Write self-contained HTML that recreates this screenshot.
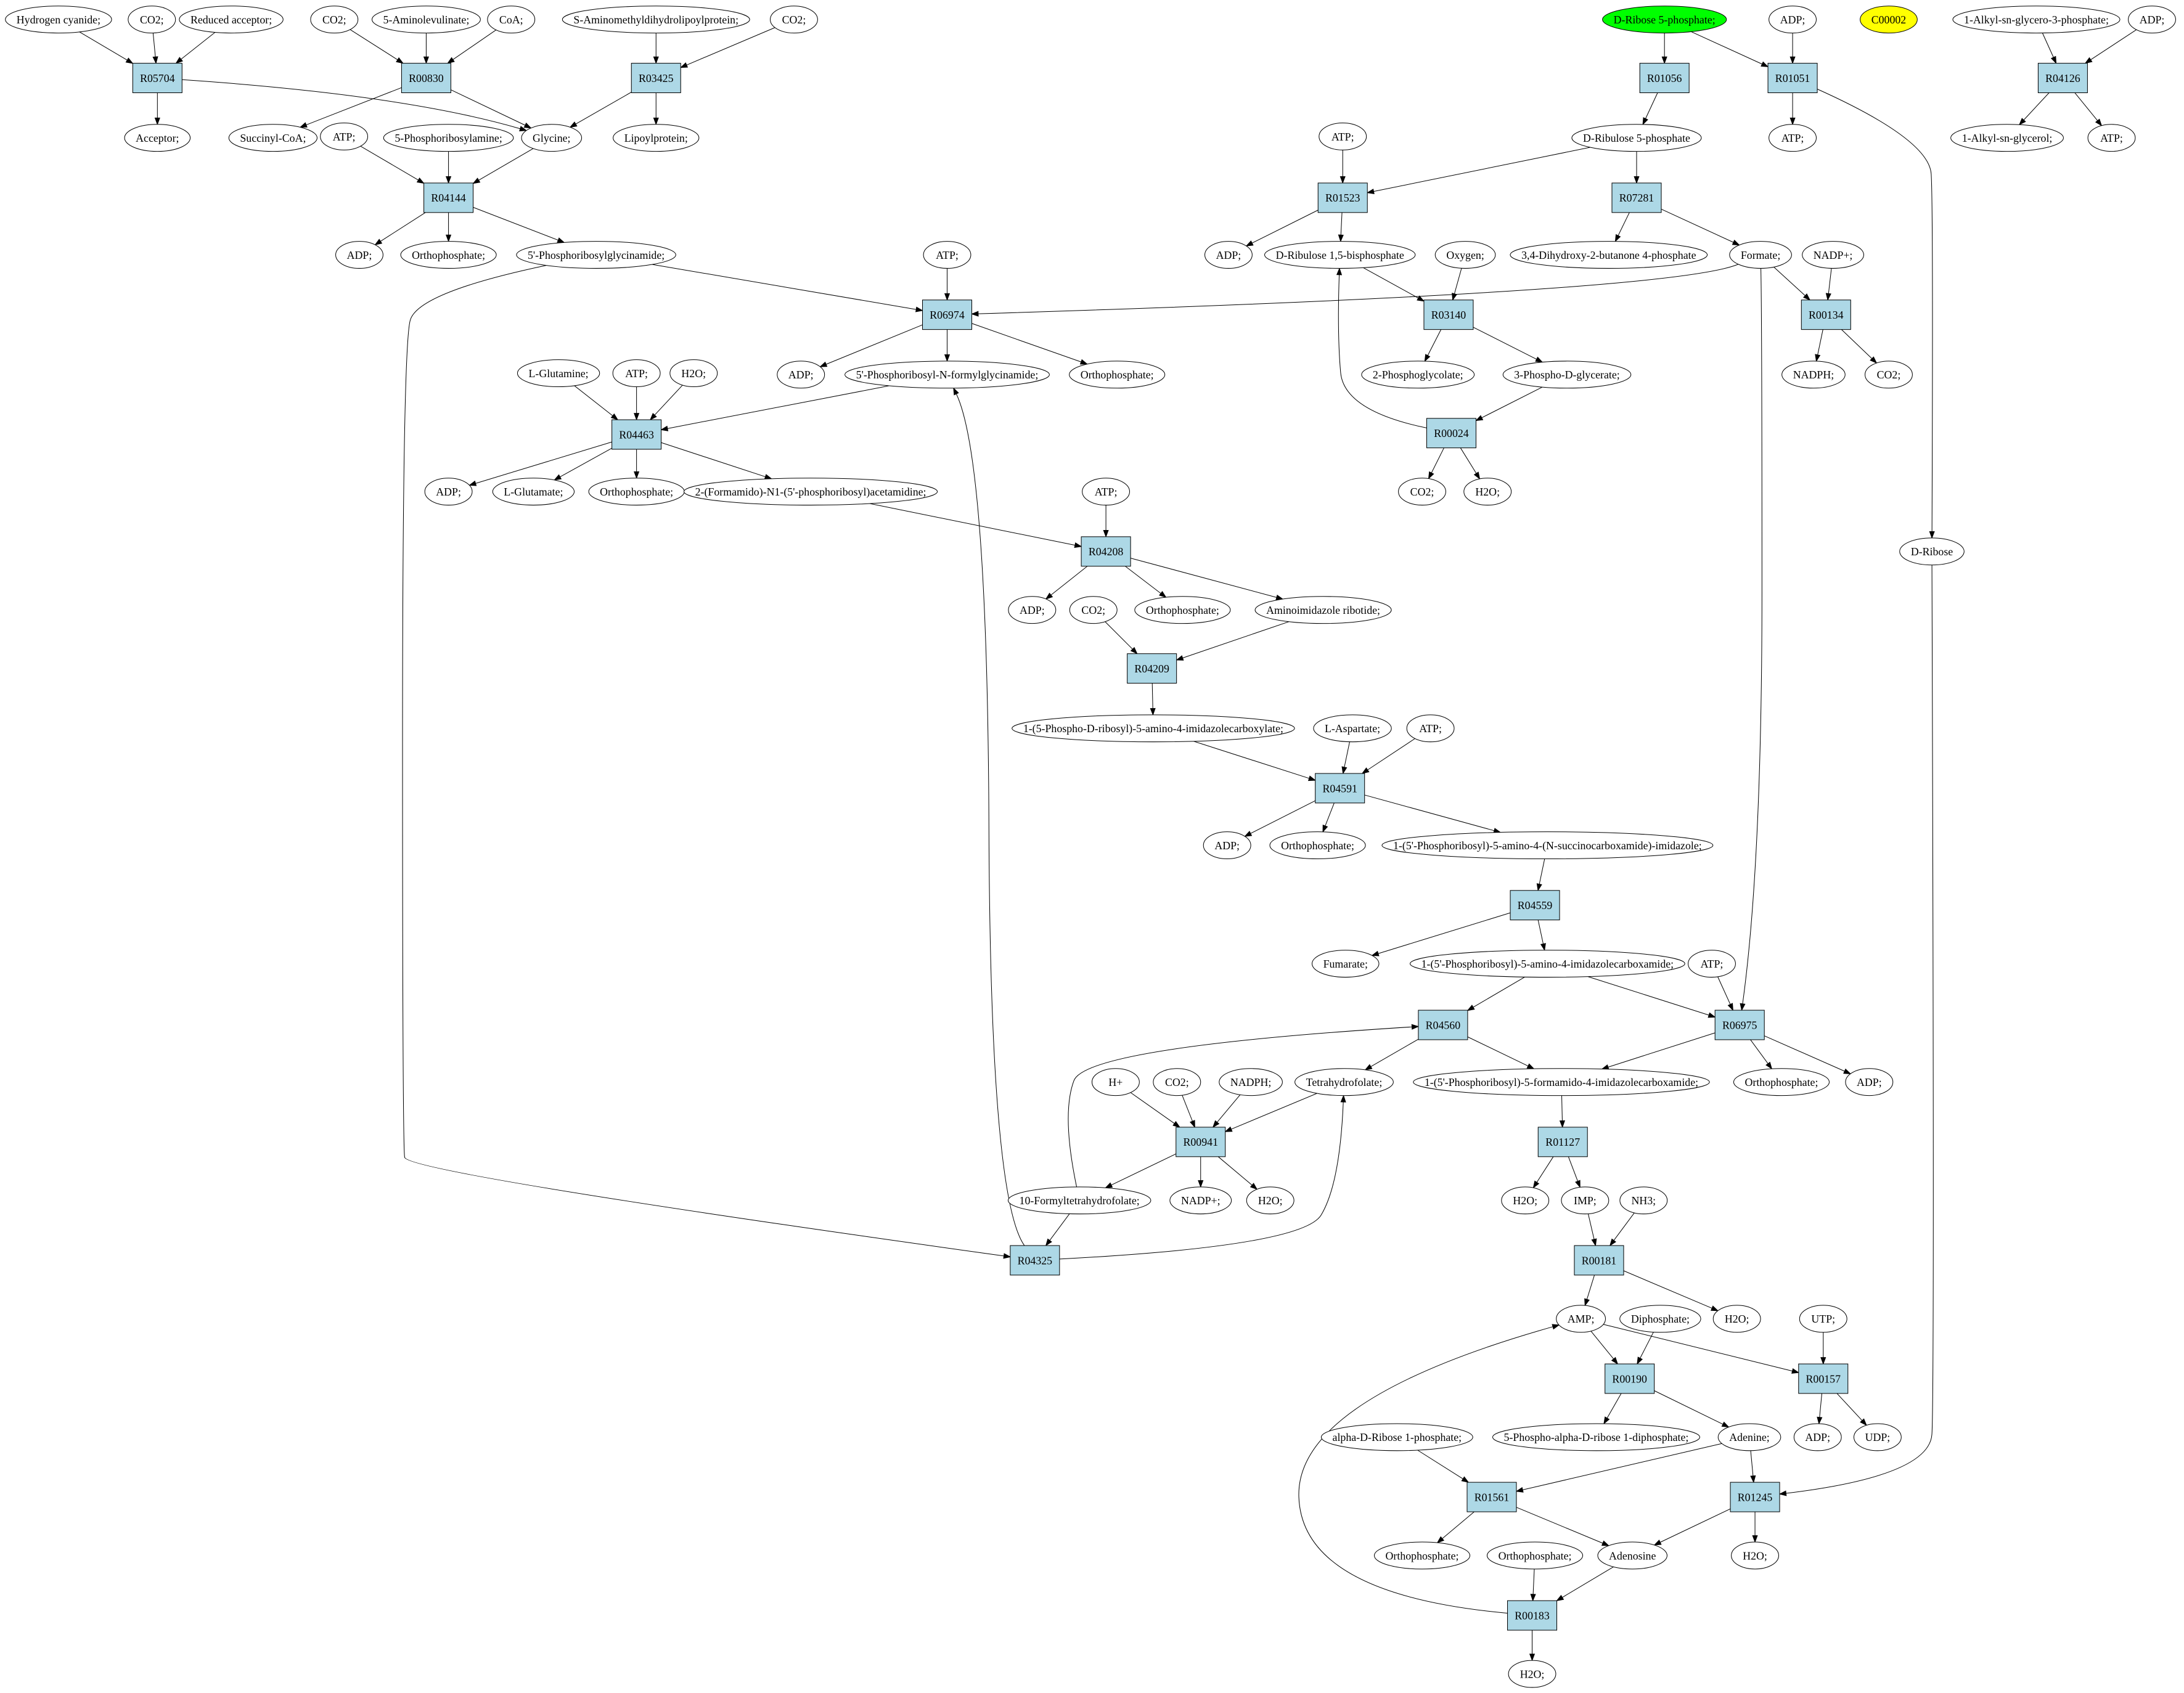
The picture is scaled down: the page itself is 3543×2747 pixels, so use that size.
<!DOCTYPE html>
<html><head><meta charset="utf-8">
<style>
html,body{margin:0;padding:0;background:#fff;}
svg{display:block;}
text{font-family:"Liberation Serif",serif;font-size:7.9px;}
</style></head>
<body>
<svg id="g" xmlns="http://www.w3.org/2000/svg" width="3543" height="2747" viewBox="0 0 1568 1215.7">
<rect x="0" y="0" width="1568" height="1216" fill="#fff"/>
<g id="edges" stroke="#000" stroke-width="0.45" fill="none"></g>
<g id="arrows" fill="#000" stroke="#000" stroke-width="0.45"></g>
<g id="nodes"></g>
</svg>
<script>
var NS="http://www.w3.org/2000/svg";
var N={
hcn:['Hydrogen cyanide;',42,14],co2a:['CO2;',109,14],redacc:['Reduced acceptor;',166,14],co2b:['CO2;',240,14],
ala:['5-Aminolevulinate;',306,14],coa:['CoA;',367,14],sam:['S-Aminomethyldihydrolipoylprotein;',471,14],co2c:['CO2;',570,14],
r5p:['D-Ribose 5-phosphate;',1195,14,'#00ff00'],adp1:['ADP;',1287,14],c2:['C00002',1356,14,'#ffff00'],
agp:['1-Alkyl-sn-glycero-3-phosphate;',1462,14],adp2:['ADP;',1545,14],
acc:['Acceptor;',113,99],succ:['Succinyl-CoA;',196,99],atp1:['ATP;',247,98],pra:['5-Phosphoribosylamine;',322,99],
gly:['Glycine;',396,99],lip:['Lipoylprotein;',471,99],ru5p:['D-Ribulose 5-phosphate',1175,99],atp2:['ATP;',1287,99],
alg:['1-Alkyl-sn-glycerol;',1441,99],atp3:['ATP;',1516,99],atp4:['ATP;',964,98],
adp3:['ADP;',258,183],pi1:['Orthophosphate;',322,183],gar:["5'-Phosphoribosylglycinamide;",428,183],atp5:['ATP;',680,183],
adp4:['ADP;',882,183],rubp:['D-Ribulose 1,5-bisphosphate',962,183],oxy:['Oxygen;',1052,183],
dhbp:['3,4-Dihydroxy-2-butanone 4-phosphate',1155,183],form:['Formate;',1264,183],nadpp1:['NADP+;',1316,183],
adp5:['ADP;',575,269],fgar:["5'-Phosphoribosyl-N-formylglycinamide;",680,269],pi2:['Orthophosphate;',802,269],
gln:['L-Glutamine;',401,268],atp6:['ATP;',457,268],h2o1:['H2O;',498,268],pg2:['2-Phosphoglycolate;',1018,269],
pg3:['3-Phospho-D-glycerate;',1125,269],nadph1:['NADPH;',1302,269],co2d:['CO2;',1356,269],
adp6:['ADP;',322,353],glu:['L-Glutamate;',383,353],pi3:['Orthophosphate;',457,353],
fgam:["2-(Formamido)-N1-(5'-phosphoribosyl)acetamidine;",582,353],atp7:['ATP;',794,353],co2e:['CO2;',1021,353],h2o2:['H2O;',1068,353],
drib:['D-Ribose',1387,396],
adp7:['ADP;',741,438],co2f:['CO2;',785,438],pi4:['Orthophosphate;',849,438],air:['Aminoimidazole ribotide;',950,438],
cair:['1-(5-Phospho-D-ribosyl)-5-amino-4-imidazolecarboxylate;',828,523],asp:['L-Aspartate;',971,523],atp8:['ATP;',1027,523],
adp8:['ADP;',881,607],pi5:['Orthophosphate;',946,607],saicar:["1-(5'-Phosphoribosyl)-5-amino-4-(N-succinocarboxamide)-imidazole;",1111,607],
fum:['Fumarate;',966,692],aicar:["1-(5'-Phosphoribosyl)-5-amino-4-imidazolecarboxamide;",1111,692],atp9:['ATP;',1229,692],
hp:['H+',801,777],co2g:['CO2;',845,777],nadph2:['NADPH;',898,777],thf:['Tetrahydrofolate;',965,777],
faicar:["1-(5'-Phosphoribosyl)-5-formamido-4-imidazolecarboxamide;",1121,777],pi6:['Orthophosphate;',1279,777],adp9:['ADP;',1342,777],
f10:['10-Formyltetrahydrofolate;',775,862],nadpp2:['NADP+;',862,862],h2o3:['H2O;',912,862],h2o4:['H2O;',1095,862],
imp:['IMP;',1138,862],nh3:['NH3;',1180,862],
amp:['AMP;',1135,947],dip:['Diphosphate;',1192,947],h2o5:['H2O;',1247,947],utp:['UTP;',1309,947],
ar1p:['alpha-D-Ribose 1-phosphate;',1003,1032],prpp:['5-Phospho-alpha-D-ribose 1-diphosphate;',1146,1032],
ade:['Adenine;',1256,1032],adp10:['ADP;',1305,1032],udp:['UDP;',1348,1032],
pi7:['Orthophosphate;',1021,1117],pi8:['Orthophosphate;',1102,1117],ado:['Adenosine',1172,1117],h2o6:['H2O;',1260,1117],
h2o7:['H2O;',1100,1202]
};
var B={R05704:[113,56],R00830:[306,56],R03425:[471,56],R01056:[1195,56],R01051:[1287,56],R04126:[1481,56],
R04144:[322,142],R01523:[964,142],R07281:[1175,142],R06974:[680,226],R03140:[1040,226],R00134:[1311,226],
R04463:[457,312],R00024:[1042,311],R04208:[794,396],R04209:[827,480],R04591:[962,566],R04559:[1102,650],
R04560:[1036,736],R06975:[1249,736],R00941:[862,820],R01127:[1122,820],R04325:[743,905],R00181:[1148,905],
R00190:[1170,990],R00157:[1309,990],R01561:[1071,1075],R01245:[1260,1075],R00183:[1100,1160]};
var nodes=document.getElementById('nodes');
var RY=9.7,BW=17.7,BH=10.6;
var shapes={};
function mk(t,a){var e=document.createElementNS(NS,t);for(var k in a)e.setAttribute(k,a[k]);return e;}
for(var id in N){var n=N[id];
 var el=mk('ellipse',{cx:n[1],cy:n[2],rx:20,ry:RY,fill:n[3]||'#fff',stroke:'#000','stroke-width':0.45});
 nodes.appendChild(el);
 var t=mk('text',{x:n[1],y:n[2]+2.8,'text-anchor':'middle'});t.textContent=n[0];nodes.appendChild(t);
 var w=t.getComputedTextLength?t.getComputedTextLength():n[0].length*3.6;
 var rx=Math.max(w/2+8,17);el.setAttribute('rx',rx);
 shapes[id]={t:'e',x:n[1],y:n[2],rx:rx,ry:RY};
}
for(var id in B){var b=B[id];
 nodes.appendChild(mk('rect',{x:b[0]-BW,y:b[1]-BH,width:2*BW,height:2*BH,fill:'#add8e6',stroke:'#000','stroke-width':0.45}));
 var t=mk('text',{x:b[0],y:b[1]+2.8,'text-anchor':'middle'});t.textContent=id;nodes.appendChild(t);
 shapes[id]={t:'b',x:b[0],y:b[1]};
}
function clip(s,tx,ty){
 var dx=tx-s.x,dy=ty-s.y;
 if(s.t=='e'){var k=1/Math.sqrt((dx*dx)/(s.rx*s.rx)+(dy*dy)/(s.ry*s.ry));return [s.x+dx*k,s.y+dy*k];}
 var k=Math.min(BW/Math.abs(dx||1e-9),BH/Math.abs(dy||1e-9));return [s.x+dx*k,s.y+dy*k];
}
var eg=document.getElementById('edges'),ag=document.getElementById('arrows');
function edge(a,b,via){
 var A=shapes[a],Bs=shapes[b];via=via||[];
 var first=via.length?via[0]:[Bs.x,Bs.y],last=via.length?via[via.length-1]:[A.x,A.y];
 var p0=clip(A,first[0],first[1]);var tip=clip(Bs,last[0],last[1]);
 var dx=tip[0]-last[0],dy=tip[1]-last[1];var L=Math.hypot(dx,dy)||1;dx/=L;dy/=L;
 var AL=4.6,AW=1.7;var base=[tip[0]-dx*AL,tip[1]-dy*AL];
 var d='M'+p0[0].toFixed(2)+','+p0[1].toFixed(2);
 if(via.length==0){d+=' L'+base[0]+','+base[1];}
 else{
  var pts=[p0].concat(via).concat([base]);
  for(var i=1;i<pts.length-1;i++){
   var nx=pts[i+1];var m=(i==pts.length-2)?nx:[(pts[i][0]+nx[0])/2,(pts[i][1]+nx[1])/2];
   d+=' Q'+pts[i][0]+','+pts[i][1]+' '+m[0]+','+m[1];
  }
 }
 eg.appendChild(mk('path',{d:d}));
 var px=-dy,py=dx;
 ag.appendChild(mk('polygon',{points:tip[0]+','+tip[1]+' '+(base[0]+px*AW)+','+(base[1]+py*AW)+' '+(base[0]-px*AW)+','+(base[1]-py*AW)}));
}
var E=[
'hcn>R05704','co2a>R05704','redacc>R05704','R05704>acc',
'co2b>R00830','ala>R00830','coa>R00830','R00830>succ','R00830>gly',
'sam>R03425','co2c>R03425','R03425>gly','R03425>lip',
'atp1>R04144','pra>R04144','gly>R04144','R04144>adp3','R04144>pi1','R04144>gar',
'gar>R06974','atp5>R06974','R06974>adp5','R06974>fgar','R06974>pi2',
'gln>R04463','atp6>R04463','h2o1>R04463','fgar>R04463','R04463>adp6','R04463>glu','R04463>pi3','R04463>fgam',
'fgam>R04208','atp7>R04208','R04208>adp7','R04208>pi4','R04208>air',
'co2f>R04209','air>R04209','R04209>cair',
'cair>R04591','asp>R04591','atp8>R04591','R04591>adp8','R04591>pi5','R04591>saicar',
'saicar>R04559','R04559>fum','R04559>aicar',
'aicar>R04560','aicar>R06975','atp9>R06975','R04560>thf','R04560>faicar','R06975>faicar','R06975>pi6','R06975>adp9',
'hp>R00941','co2g>R00941','nadph2>R00941','thf>R00941','R00941>f10','R00941>nadpp2','R00941>h2o3',
'f10>R04325','faicar>R01127','R01127>h2o4','R01127>imp','imp>R00181','nh3>R00181','R00181>amp','R00181>h2o5',
'amp>R00190','dip>R00190','amp>R00157','utp>R00157','R00157>adp10','R00157>udp','R00190>prpp','R00190>ade',
'ar1p>R01561','ade>R01561','R01561>pi7','R01561>ado','ade>R01245','R01245>ado','R01245>h2o6',
'pi8>R00183','ado>R00183','R00183>h2o7',
'r5p>R01056','R01056>ru5p','r5p>R01051','adp1>R01051','R01051>atp2',
'ru5p>R01523','ru5p>R07281','atp4>R01523','R01523>adp4','R01523>rubp','R07281>dhbp','R07281>form',
'rubp>R03140','oxy>R03140','R03140>pg2','R03140>pg3','pg3>R00024','R00024>co2e','R00024>h2o2',
'form>R00134','nadpp1>R00134','R00134>nadph1','R00134>co2d',
'agp>R04126','adp2>R04126','R04126>alg','R04126>atp3'
];
E.forEach(function(s){var p=s.split('>');edge(p[0],p[1]);});
edge('R05704','gly',[[290,68]]);
edge('gar','R04325',[[300,210],[289,250],[289,820],[292,842]]);
edge('R04325','fgar',[[711,860],[709,330]]);
edge('R04325','thf',[[935,895],[962,850]]);
edge('f10','R04560',[[762,800],[780,752]]);
edge('form','R06974',[[1200,210]]);
edge('form','R06975',[[1265,230],[1265,620]]);
edge('R01051','drib',[[1385,100],[1388,150]]);
edge('drib','R01245',[[1389,1000],[1385,1060]]);
edge('R00183','amp',[[935,1145],[930,1005]]);
edge('R00024','rubp',[[965,295],[960,240]]);
</script>
</body></html>
